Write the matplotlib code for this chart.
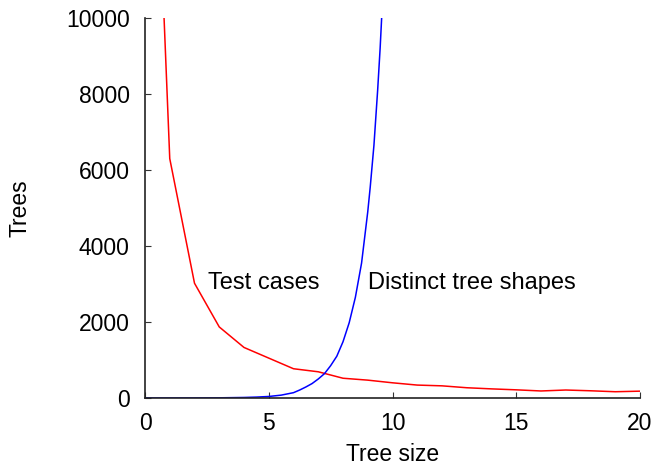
import matplotlib
matplotlib.use("Agg")
import matplotlib.pyplot as plt

# Test cases (red), at integer tree sizes
test_x = [0, 1, 2, 3, 4, 5, 6, 7, 8, 9, 10, 11, 12, 13, 14, 15, 16, 17, 18, 19, 20]
test_y = [22400, 6300, 3020, 1870, 1330, 1050, 770, 690, 520, 470, 400,
          340, 320, 270, 240, 215, 185, 210, 190, 165, 180]

# Distinct tree shapes (blue)
shape_x = [0, 1, 2, 3, 4, 4.5, 5, 5.5, 6, 6.25, 6.5, 6.75, 7, 7.25, 7.5, 7.75,
           8, 8.25, 8.5, 8.75, 9, 9.1, 9.25, 9.4, 9.5, 9.6]
shape_y = [1, 1, 2, 5, 14, 24, 40, 75, 140, 210, 290, 380, 500, 640, 850, 1100,
           1480, 1980, 2650, 3550, 4900, 5550, 6650, 8100, 9200, 10500]

x_ticks = [0, 5, 10, 15, 20]
y_ticks = [0, 2000, 4000, 6000, 8000, 10000]

plt.rcParams['font.family'] = ['Liberation Sans', 'DejaVu Sans']
FS = 16.5

fig = plt.figure(figsize=(6.59, 4.68), dpi=100)
ax = fig.add_axes([145/659, 1 - 398/468, (640 - 145)/659, (398 - 18)/468])

ax.plot(test_x, test_y, color='#ff0000', lw=1.1)
ax.plot(shape_x, shape_y, color='#0000ff', lw=1.1)

ax.set_xlim(0, 20)
ax.set_ylim(0, 10000)
ax.set_xticks(x_ticks)
ax.set_yticks(y_ticks)
ax.tick_params(direction='in', length=4.5, width=0.8, labelsize=FS,
               color='#333333')
ax.tick_params(axis='y', pad=11)
ax.tick_params(axis='x', pad=10)

for s in ['top', 'right']:
    ax.spines[s].set_visible(False)
for s in ['left', 'bottom']:
    ax.spines[s].set_linewidth(1.2)
    ax.spines[s].set_color('#222222')

ax.text(2.55, 3030, 'Test cases', fontsize=17, va='center', ha='left')
ax.text(9.03, 3030, 'Distinct tree shapes', fontsize=17, va='center', ha='left')

ax.set_xlabel('Tree size', fontsize=FS, labelpad=6)
ax.set_ylabel('Trees', fontsize=FS, labelpad=25)

fig.savefig('out.png', dpi=100)
